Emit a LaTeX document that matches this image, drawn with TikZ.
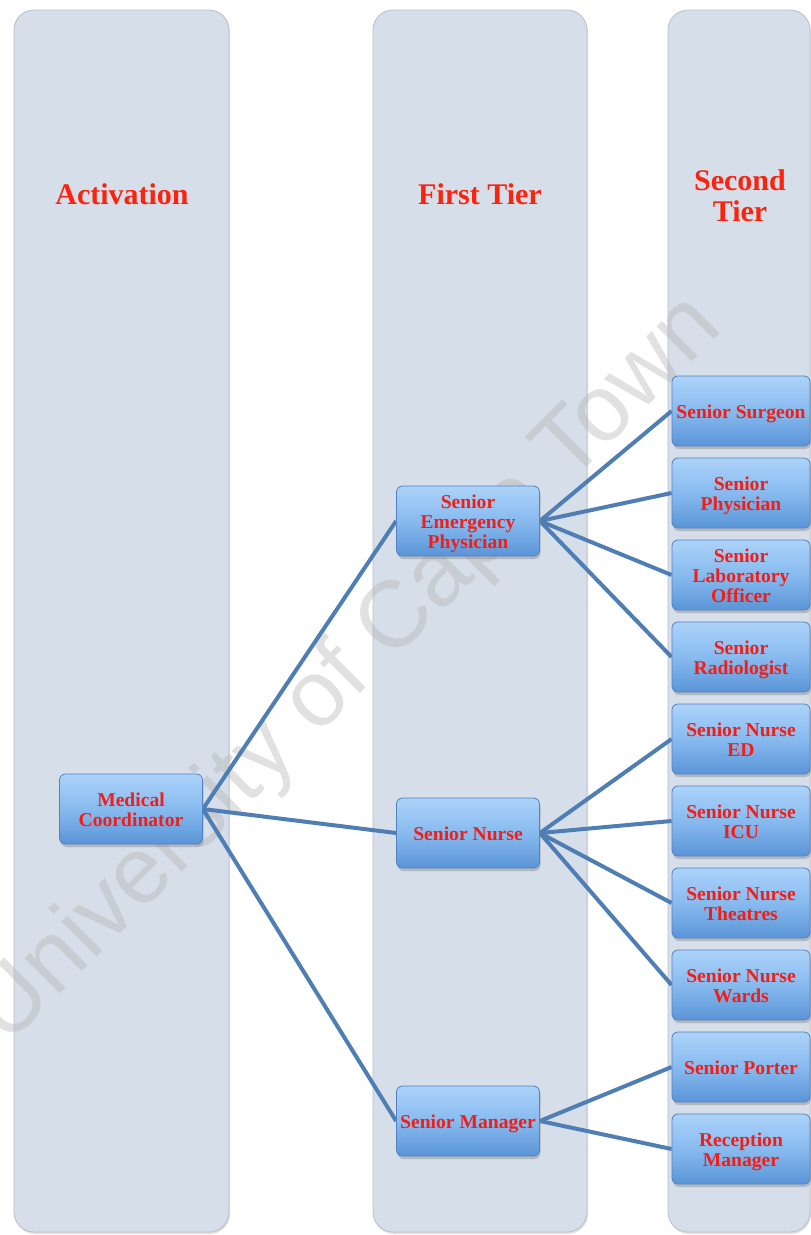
\documentclass[tikz,border=0pt]{standalone}
\usepackage{fontspec}
\setmainfont{Liberation Serif}
\newfontfamily\wmfont{Liberation Sans}
\usetikzlibrary{shadows}
\definecolor{colfill}{HTML}{D6DEEA}
\definecolor{colline}{HTML}{B9C0CA}
\definecolor{txtred}{RGB}{240,30,22}
\definecolor{titred}{RGB}{250,36,14}
\definecolor{boxtop}{HTML}{ACD3FA}
\definecolor{boxmid}{HTML}{88BAEF}
\definecolor{boxbot}{HTML}{5A95D8}
\definecolor{boxline}{HTML}{5283C0}
\definecolor{connblue}{HTML}{4F7EB4}
\pgfdeclarelayer{bg}
\pgfdeclarelayer{lines}
\pgfsetlayers{bg,lines,main}
\newcommand\bxt[1]{\raisebox{-3pt}[\height][\depth]{\begin{tabular}{@{}c@{}}#1\end{tabular}}}
\begin{document}
\begin{tikzpicture}[x=1pt,y=-1pt,
  column/.style={draw=colline, line width=0.8pt, fill=colfill, rounded corners=20pt,
    drop shadow={shadow xshift=1pt, shadow yshift=-2pt, opacity=0.25}},
  title/.style={text=titred, font=\fontsize{30}{31}\selectfont\bfseries, align=center},
  box/.style={draw=boxline, line width=0.8pt, rounded corners=6pt,
    top color=boxtop, bottom color=boxbot, middle color=boxmid,
    minimum height=70pt, inner sep=0pt, text=txtred,
    font=\fontsize{19.6}{20}\selectfont\bfseries,
    drop shadow={shadow xshift=1pt, shadow yshift=-3pt, opacity=0.4}},
  wide/.style={box, minimum width=143pt},
  leaf/.style={box, minimum width=138pt},
  connector/.style={draw=connblue, line width=4pt}
]
\useasboundingbox (0,0) rectangle (811,1235);
\begin{pgfonlayer}{bg}
\fill[white] (0,0) rectangle (811,1235);
\path[column] (14,10) rectangle (229,1232);
\path[column] (373,10) rectangle (587,1232);
\path[column] (668,10) rectangle (810,1232);
\node[rotate=45, anchor=base, text=gray!60, text opacity=0.38,
  font=\wmfont\fontsize{94}{94}\selectfont] (wm) at (366,688) {University of Cape Town};
\end{pgfonlayer}

\node[title] (t1) at (122,194) {Activation};
\node[title] (t2) at (480,194) {First Tier};
\node[title] (t3) at (740,196) {Second\\Tier};

\node[wide] (mc) at (131,809) {\bxt{Medical\\Coordinator}};
\node[wide] (sep) at (468,521) {\bxt{Senior\\Emergency\\Physician}};
\node[wide] (sn) at (468,833) {\bxt{Senior Nurse}};
\node[wide] (sm) at (468,1121) {\bxt{Senior Manager}};

\node[leaf] (ss) at (741,411) {\bxt{Senior Surgeon}};
\node[leaf] (sp) at (741,493) {\bxt{Senior\\Physician}};
\node[leaf] (slo) at (741,575) {\bxt{Senior\\Laboratory\\Officer}};
\node[leaf] (sr) at (741,657) {\bxt{Senior\\Radiologist}};
\node[leaf] (sned) at (741,739) {\bxt{Senior Nurse\\ED}};
\node[leaf] (snicu) at (741,821) {\bxt{Senior Nurse\\ICU}};
\node[leaf] (snt) at (741,903) {\bxt{Senior Nurse\\Theatres}};
\node[leaf] (snw) at (741,985) {\bxt{Senior Nurse\\Wards}};
\node[leaf] (spo) at (741,1067) {\bxt{Senior Porter}};
\node[leaf] (rm) at (741,1149) {\bxt{Reception\\Manager}};

\begin{pgfonlayer}{lines}
\draw[connector] (mc.east) -- (sep.west);
\draw[connector] (mc.east) -- (sn.west);
\draw[connector] (mc.east) -- (sm.west);
\foreach \c in {ss,sp,slo,sr} \draw[connector] (sep.east) -- (\c.west);
\foreach \c in {sned,snicu,snt,snw} \draw[connector] (sn.east) -- (\c.west);
\foreach \c in {spo,rm} \draw[connector] (sm.east) -- (\c.west);
\end{pgfonlayer}
\end{tikzpicture}
\end{document}
